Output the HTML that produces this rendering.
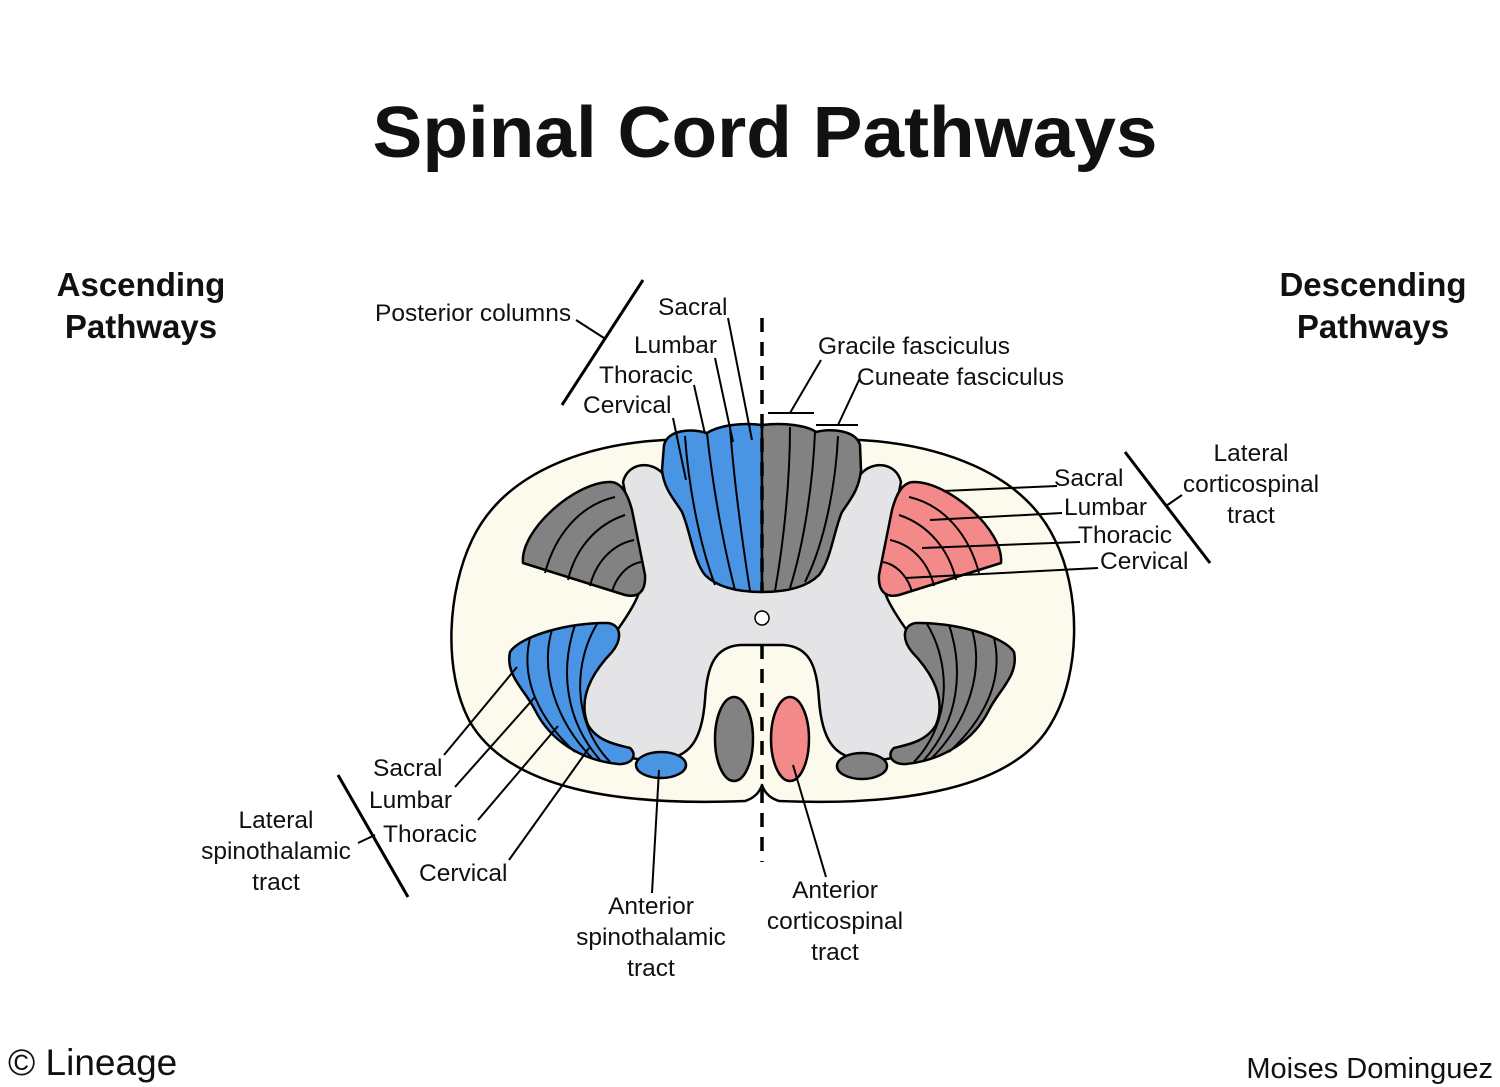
<!DOCTYPE html>
<html><head><meta charset="utf-8"><style>
html,body{margin:0;padding:0;background:#fff}
svg{display:block}
text{font-family:"Liberation Sans",Arial,sans-serif;fill:#111}
</style></head><body>
<svg width="1500" height="1087" viewBox="0 0 1500 1087" xmlns="http://www.w3.org/2000/svg">
<rect width="1500" height="1087" fill="#fff"/>
<text x="765" y="157" font-size="72" font-weight="bold" text-anchor="middle" textLength="785" lengthAdjust="spacingAndGlyphs">Spinal Cord Pathways</text>
<g font-size="33" font-weight="bold" text-anchor="middle">
<text x="141" y="296">Ascending</text><text x="141" y="338">Pathways</text>
<text x="1373" y="296">Descending</text><text x="1373" y="338">Pathways</text>
</g>

<g stroke="#000" stroke-width="2.5" stroke-linejoin="round">
<path d="M664 440 C590 444 505 470 472 540 C448 590 442 670 470 722 C510 790 620 806 745 801 Q758 797 762 785 Q766 797 779 801 C900 806 1015 790 1052 722 C1082 670 1080 590 1055 540 C1022 470 935 444 860 440 Z" fill="#fcfaed"/>
<path d="M700 560 L682 508 L664 475 C652 460 628 462 623 482 L640 565 C645 585 640 600 610 640 C590 665 578 690 584 718 C592 745 620 762 660 760 C690 758 702 740 705 700 C707 665 715 647 740 645 L784 645 C809 647 817 665 819 700 C822 740 834 758 864 760 C904 762 932 745 940 718 C946 690 934 665 914 640 C884 600 879 585 884 565 L901 482 C896 462 872 460 860 475 L842 508 L824 560 Z" fill="#e4e4e6"/>
<path d="M762 425 C740 422 718 426 707 433 C690 428 668 430 664 445 L662 470 C664 490 675 500 682 512 C690 530 693 560 705 575 C720 590 745 592 762 592 Z" fill="#4a94e4"/>
<path d="M685 436 C688 480 698 540 715 585 M707 433 C712 480 722 540 735 590 M730 427 C734 480 742 540 750 591" fill="none" stroke-width="2"/>
<path d="M762 425 C785 422 808 426 816 432 C830 428 856 430 860 445 L861 470 C859 490 850 500 842 512 C834 530 831 560 819 575 C804 590 779 592 762 592 Z" fill="#828282"/>
<path d="M790 427 C790 480 784 540 775 591 M815 432 C813 480 805 540 790 588 M838 436 C836 480 826 540 805 582" fill="none" stroke-width="2"/>
<path d="M523 563 C520 530 575 482 610 482 C622 482 628 495 632 510 L645 575 C646 592 638 598 625 595 Z" fill="#828282"/>
<path d="M545 573 C555 535 580 505 615 497 M568 580 C575 550 595 525 625 515 M590 586 C595 565 610 545 634 540 M612 592 C615 580 625 565 641 562" fill="none" stroke-width="2"/>
<path d="M1001 563 C1004 530 949 482 914 482 C902 482 896 495 892 510 L879 575 C878 592 886 598 899 595 Z" fill="#f4898a"/>
<path d="M979 573 C969 535 944 505 909 497 M956 580 C949 550 929 525 899 515 M934 586 C929 565 914 545 890 540 M912 592 C909 580 899 565 883 562" fill="none" stroke-width="2"/>
<path d="M510 652 C520 636 570 622 608 623 C622 625 622 640 612 652 C590 675 578 700 588 725 C598 742 618 745 630 748 C638 755 632 765 618 764 C580 760 550 740 535 710 C525 690 505 675 510 652 Z" fill="#4a94e4"/>
<path d="M530 638 C520 680 540 720 575 752 M552 630 C540 670 555 720 592 758 M575 625 C560 670 565 720 600 760 M597 624 C575 660 570 720 610 762" fill="none" stroke-width="2"/>
<path d="M1014 652 C1004 636 954 622 916 623 C902 625 902 640 912 652 C934 675 946 700 936 725 C926 742 906 745 894 748 C886 755 892 765 906 764 C944 760 974 740 989 710 C999 690 1019 675 1014 652 Z" fill="#828282"/>
<path d="M994 638 C1004 680 984 720 949 752 M972 630 C984 670 969 720 932 758 M949 625 C964 670 959 720 924 760 M927 624 C949 660 954 720 914 762" fill="none" stroke-width="2"/>
<ellipse cx="661" cy="765" rx="25" ry="13" fill="#4a94e4"/>
<ellipse cx="862" cy="766" rx="25" ry="13" fill="#828282"/>
<ellipse cx="734" cy="739" rx="19" ry="42" fill="#828282"/>
<ellipse cx="790" cy="739" rx="19" ry="42" fill="#f4898a"/>
<ellipse cx="762" cy="618" rx="7" ry="7" fill="#fff" stroke-width="1.5"/>
</g>
<line x1="762" y1="318" x2="762" y2="592" stroke="#000" stroke-width="3.5" stroke-dasharray="14 10"/>
<line x1="762" y1="645" x2="762" y2="862" stroke="#000" stroke-width="3.5" stroke-dasharray="14 10"/>

<g stroke="#000" stroke-width="2">
<line x1="562" y1="405" x2="643" y2="280" stroke-width="3"/>
<line x1="576" y1="320" x2="604" y2="338"/>
<line x1="728" y1="318" x2="752" y2="440"/>
<line x1="715" y1="358" x2="733" y2="442"/>
<line x1="694" y1="385" x2="705" y2="434"/>
<line x1="673" y1="418" x2="686" y2="480"/>
<line x1="768" y1="413" x2="814" y2="413"/>
<line x1="821" y1="360" x2="790" y2="413"/>
<line x1="816" y1="425" x2="858" y2="425"/>
<line x1="860" y1="378" x2="838" y2="425"/>
<line x1="1125" y1="452" x2="1210" y2="563" stroke-width="3"/>
<line x1="1166" y1="506" x2="1182" y2="495"/>
<line x1="1057" y1="486" x2="943" y2="491"/>
<line x1="1062" y1="513" x2="930" y2="520"/>
<line x1="1080" y1="542" x2="922" y2="548"/>
<line x1="1098" y1="568" x2="905" y2="578"/>
<line x1="338" y1="775" x2="408" y2="897" stroke-width="3"/>
<line x1="358" y1="843" x2="375" y2="835"/>
<line x1="444" y1="755" x2="517" y2="667"/>
<line x1="455" y1="787" x2="535" y2="697"/>
<line x1="478" y1="820" x2="558" y2="726"/>
<line x1="509" y1="860" x2="589" y2="748"/>
<line x1="652" y1="893" x2="659" y2="770"/>
<line x1="826" y1="877" x2="793" y2="765"/>
</g>

<g font-size="24.5">
<text x="375" y="321">Posterior columns</text>
<text x="658" y="315">Sacral</text>
<text x="634" y="353">Lumbar</text>
<text x="599" y="383">Thoracic</text>
<text x="583" y="413">Cervical</text>
<text x="818" y="354">Gracile fasciculus</text>
<text x="857" y="385">Cuneate fasciculus</text>
<text x="1054" y="486">Sacral</text>
<text x="1064" y="515">Lumbar</text>
<text x="1078" y="543">Thoracic</text>
<text x="1100" y="569">Cervical</text>
<text x="373" y="776">Sacral</text>
<text x="369" y="808">Lumbar</text>
<text x="383" y="842">Thoracic</text>
<text x="419" y="881">Cervical</text>
<g text-anchor="middle">
<text x="1251" y="461">Lateral</text><text x="1251" y="492">corticospinal</text><text x="1251" y="523">tract</text>
<text x="276" y="828">Lateral</text><text x="276" y="859">spinothalamic</text><text x="276" y="890">tract</text>
<text x="651" y="914">Anterior</text><text x="651" y="945">spinothalamic</text><text x="651" y="976">tract</text>
<text x="835" y="898">Anterior</text><text x="835" y="929">corticospinal</text><text x="835" y="960">tract</text>
</g>
</g>
<text x="8" y="1075" font-size="37" fill="#222">© Lineage</text>
<text x="1493" y="1078" font-size="29" text-anchor="end" fill="#222">Moises Dominguez</text>
</svg>
</body></html>
